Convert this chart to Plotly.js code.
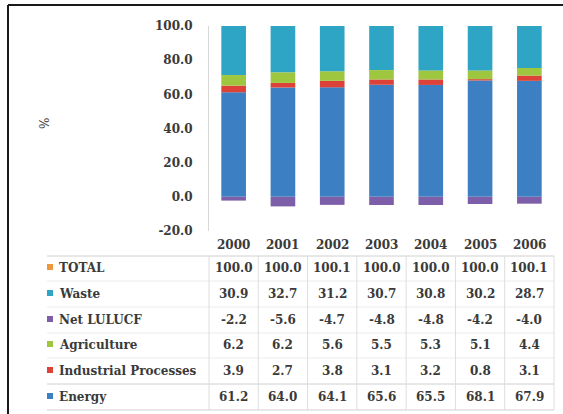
<!DOCTYPE html>
<html>
<head>
<meta charset="utf-8">
<script src="https://cdn.plot.ly/plotly-3.0.1.min.js"></script>
<style>html,body{margin:0;padding:0;background:#fff;}#chart{width:563px;height:414px;}</style>
</head>
<body>
<div id="chart"></div>
<script>
// ---- data ----
const years = ['2000','2001','2002','2003','2004','2005','2006'];
const energy = [61.2, 64.0, 64.1, 65.6, 65.5, 68.1, 67.9];
const industrialProcesses = [3.9, 2.7, 3.8, 3.1, 3.2, 0.8, 3.1];
const agriculture = [6.2, 6.2, 5.6, 5.5, 5.3, 5.1, 4.4];
const netLulucf = [-2.2, -5.6, -4.7, -4.8, -4.8, -4.2, -4.0];
const waste = [30.9, 32.7, 31.2, 30.7, 30.8, 30.2, 28.7];
const total = [100.0, 100.0, 100.1, 100.0, 100.0, 100.0, 100.1];
const yTickVals = [-20, 0, 20, 40, 60, 80, 100];
const yTickText = ['-20.0', '0.0', '20.0', '40.0', '60.0', '80.0', '100.0'];
const rowNames = ['TOTAL', 'Waste', 'Net LULUCF', 'Agriculture', 'Industrial Processes', 'Energy'];
const rowValues = [total, waste, netLulucf, agriculture, industrialProcesses, energy];

// ---- styles ----
const colors = {
  'TOTAL': '#f0963c',
  'Waste': '#2fa5c6',
  'Net LULUCF': '#7d5ea8',
  'Agriculture': '#9fc63f',
  'Industrial Processes': '#dc4238',
  'Energy': '#3c7fc3'
};
const FONT = 'DejaVu Serif, serif';
const TXT = '#3a3a3a';

// ---- geometry (pixels) ----
const W = 563, H = 414;
const L = 209, R = 554, T = 26, B = 231;
const px = p => (p - L) / (R - L);
const py = p => (B - p) / (B - T);

const barSeries = [
  ['Energy', energy],
  ['Industrial Processes', industrialProcesses],
  ['Agriculture', agriculture],
  ['Net LULUCF', netLulucf],
  ['Waste', waste]
];
const traces = barSeries.map(([name, vals]) => ({
  type: 'bar', name: name, x: years, y: vals,
  marker: {color: colors[name], line: {width: 0}},
  hoverinfo: 'x+y+name'
}));

const annotations = [];
const shapes = [];

// y-axis title
annotations.push({xref: 'paper', yref: 'paper', x: px(45), y: py(124),
  text: '%', showarrow: false, textangle: -90,
  font: {family: FONT, size: 12, color: TXT}, xanchor: 'center', yanchor: 'middle'});

// header row (years)
const headerY = 245;
years.forEach((yr, i) => annotations.push({xref: 'x', yref: 'paper', x: i, y: py(headerY),
  text: '<b>' + yr + '</b>', showarrow: false,
  font: {family: FONT, size: 12, color: TXT}, xanchor: 'center', yanchor: 'middle'}));

// data rows
const rowY = [268, 294, 320, 345, 371, 397];
rowNames.forEach((name, r) => {
  annotations.push({xref: 'paper', yref: 'paper', x: px(57), y: py(rowY[r]),
    text: '<b>' + name + '</b>', showarrow: false,
    font: {family: FONT, size: 12, color: TXT}, xanchor: 'left', yanchor: 'middle'});
  shapes.push({type: 'rect', xref: 'paper', yref: 'paper',
    x0: px(47), x1: px(53), y0: py(rowY[r] - 4), y1: py(rowY[r] + 2),
    fillcolor: colors[name], line: {width: 0}, layer: 'above'});
  rowValues[r].forEach((v, i) => annotations.push({xref: 'x', yref: 'paper', x: i, y: py(rowY[r]),
    text: '<b>' + v.toFixed(1) + '</b>', showarrow: false,
    font: {family: FONT, size: 12, color: TXT}, xanchor: 'center', yanchor: 'middle'}));
});

// table grid lines
const hLine = (y, x0, x1, c, w) => shapes.push({type: 'line', xref: 'paper', yref: 'paper',
  x0: px(x0), x1: px(x1), y0: py(y), y1: py(y), line: {color: c, width: w || 1}, layer: 'below'});
const vLine = (x, y0, y1, c) => shapes.push({type: 'line', xref: 'paper', yref: 'paper',
  x0: px(x), x1: px(x), y0: py(y0), y1: py(y1), line: {color: c, width: 1}, layer: 'below'});
const rowBounds = [256, 281, 307, 333, 358, 384, 410];
rowBounds.forEach((y, k) => hLine(y, 47, R, (k === 0 || k === 5 || k === 6) ? '#d0d0d0' : '#ececec'));
for (let i = 0; i <= years.length; i++) {
  vLine(L + i * (R - L) / years.length, 256, 410, '#dedede');
}

// outer frame
shapes.push({type: 'line', xref: 'paper', yref: 'paper', x0: px(8), x1: px(563), y0: py(5), y1: py(5),
  line: {color: '#1a1a1a', width: 2}});
shapes.push({type: 'line', xref: 'paper', yref: 'paper', x0: px(8), x1: px(8), y0: py(5), y1: py(414),
  line: {color: '#1a1a1a', width: 2}});

const layout = {
  width: W, height: H,
  margin: {l: L, r: W - R, t: T, b: H - B, pad: 0},
  paper_bgcolor: '#ffffff', plot_bgcolor: '#ffffff',
  barmode: 'relative', bargap: 0.5,
  showlegend: false,
  font: {family: FONT, size: 12, color: TXT},
  xaxis: {type: 'category', range: [-0.5, years.length - 0.5], autorange: false,
    showticklabels: false, showgrid: false, zeroline: false,
    showline: false, ticks: '', fixedrange: true},
  yaxis: {range: [-20, 100], autorange: false, tickvals: yTickVals, ticktext: yTickText,
    showgrid: false, zeroline: false, showline: true, linecolor: '#d8d8d8', linewidth: 1,
    ticks: '', ticklabelstandoff: 13,
    tickfont: {family: FONT, size: 12, color: TXT, weight: 'bold'}, fixedrange: true},
  annotations: annotations,
  shapes: shapes
};

Plotly.newPlot('chart', traces, layout, {displayModeBar: false, staticPlot: true});
</script>
</body>
</html>
